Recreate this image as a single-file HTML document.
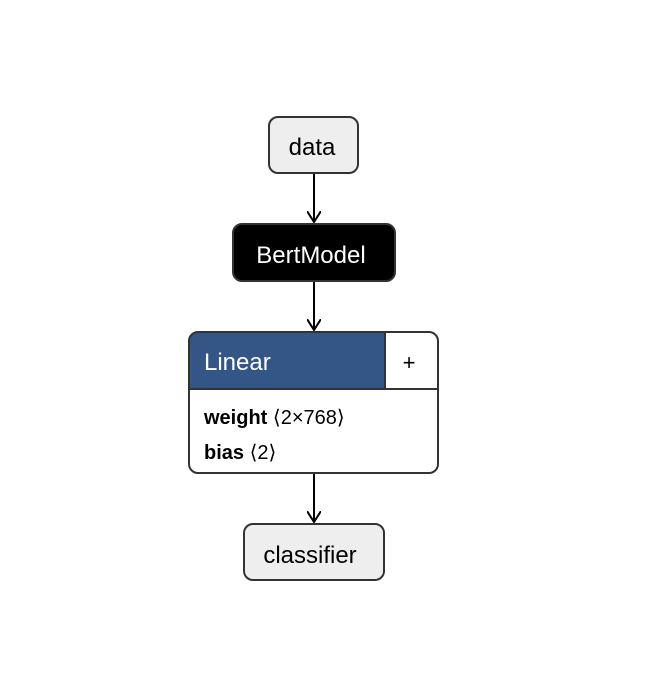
<!DOCTYPE html>
<html><head><style>
body{margin:0;width:647px;height:680px;background:#fff;font-family:"Liberation Sans","DejaVu Sans",sans-serif;}
</style></head><body>
<svg width="647" height="680" viewBox="0 0 647 680" xmlns="http://www.w3.org/2000/svg">
<defs><marker id="a" viewBox="0 0 12 14" refX="11" refY="7" markerWidth="12" markerHeight="14" markerUnits="userSpaceOnUse" orient="auto"><path d="M0,0 L11,7 L0,14" fill="none" stroke="#000" stroke-width="2"/></marker></defs>
<g stroke="#000" stroke-width="2" fill="none">
<line x1="314" y1="174" x2="314" y2="222" marker-end="url(#a)"/>
<line x1="314" y1="282" x2="314" y2="330" marker-end="url(#a)"/>
<line x1="314" y1="474" x2="314" y2="522" marker-end="url(#a)"/>
</g>
<rect x="269" y="117" width="89" height="56" rx="9" fill="#eee" stroke="#333" stroke-width="2"/>
<text x="312" y="155" font-size="24" text-anchor="middle" fill="#000">data</text>
<rect x="233" y="224" width="162" height="57" rx="9" fill="#000" stroke="#333" stroke-width="2"/>
<text x="311" y="263" font-size="24" text-anchor="middle" fill="#fff">BertModel</text>
<path d="M198,332 H385 V389 H189 V341 A9,9 0 0 1 198,332 Z" fill="#335687"/>
<rect x="189" y="332" width="249" height="141" rx="9" fill="none" stroke="#333" stroke-width="2"/>
<line x1="189" y1="389" x2="438" y2="389" stroke="#333" stroke-width="2"/>
<line x1="385" y1="332" x2="385" y2="389" stroke="#333" stroke-width="2"/>
<text x="204" y="370" font-size="24" fill="#fff">Linear</text>
<text x="409" y="370" font-size="22" text-anchor="middle" fill="#000">+</text>
<text x="204" y="424" font-size="20" fill="#000"><tspan font-weight="bold">weight</tspan> ⟨2×768⟩</text>
<text x="204" y="459" font-size="20" fill="#000"><tspan font-weight="bold">bias</tspan> ⟨2⟩</text>
<rect x="244" y="524" width="140" height="56" rx="9" fill="#eee" stroke="#333" stroke-width="2"/>
<text x="310" y="563" font-size="24" text-anchor="middle" fill="#000">classifier</text>
</svg>
</body></html>
